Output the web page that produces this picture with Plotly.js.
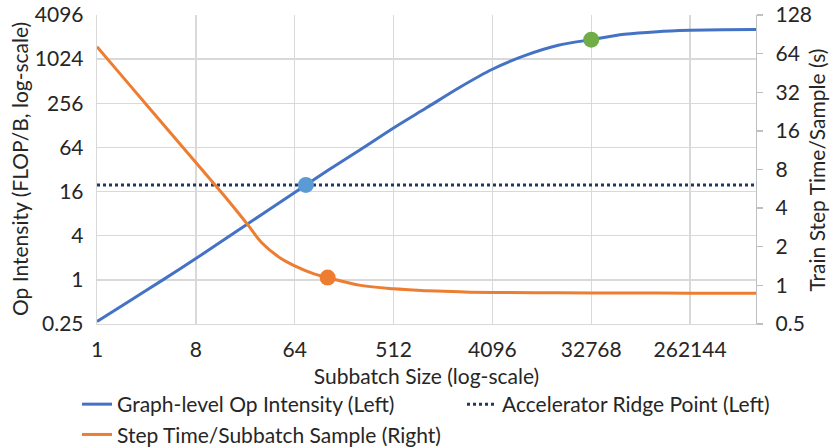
<!DOCTYPE html>
<html>
<head>
<meta charset="utf-8">
<script src="https://cdn.plot.ly/plotly-3.0.1.min.js"></script>
<style>
  html, body { margin: 0; padding: 0; background: #fff; }
  #chart { width: 830px; height: 447px; }
</style>
</head>
<body>
<div id="chart"></div>
<script>
// subbatch sizes (powers of 2)
var subbatch = [1, 2, 4, 8, 16, 32, 64, 128, 256, 512, 1024, 2048, 4096, 8192,
  16384, 32768, 65536, 131072, 262144, 524288, 1048576];

// graph-level op intensity, FLOP/B (left axis)
var opIntensity = [0.27, 0.52, 1.0, 1.95, 3.9, 7.8, 15.6, 31, 60, 118, 222, 420,
  745, 1150, 1580, 1890, 2230, 2430, 2530, 2580, 2600];

// step time per subbatch sample, s (right axis) - read at extra sizes round the knee
var stepX = [1, 2, 4, 8, 16, 24, 32, 48, 64, 96, 128, 256, 512, 1024, 2048,
  4096, 16384, 65536, 262144, 1048576];
var stepTime = [72.5, 36.2, 18.1, 9.06, 4.53, 2.95, 2.15, 1.62, 1.42, 1.23, 1.15,
  1.0, 0.94, 0.91, 0.89, 0.88, 0.875, 0.872, 0.87, 0.87];

// accelerator ridge point, FLOP/B
var ridgePoint = 19.7;
var ridgeX = [1, 1048576];

// highlighted points
var ridgeHit = {x: [81], y: [19.7]};
var stepHit = {x: [128], y: [1.15]};
var satHit = {x: [32768], y: [1890]};

var xTicks = [1, 8, 64, 512, 4096, 32768, 262144];
var leftTicks = [0.25, 1, 4, 16, 64, 256, 1024, 4096];
var rightTicks = [0.5, 1, 2, 4, 8, 16, 32, 64, 128];

var FONT = 'Lato, "Open Sans", sans-serif';
var FS = 21;
var TXT = '#262626';
var GRID = '#d9d9d9';

var lineOp = {
  x: subbatch, y: opIntensity, type: 'scatter', mode: 'lines',
  name: 'Graph-level Op Intensity (Left)',
  line: {color: '#4472c4', width: 3, shape: 'spline', smoothing: 0.8},
  legend: 'legend'
};

var lineRidge = {
  x: ridgeX, y: ridgeX.map(function(){ return ridgePoint; }),
  type: 'scatter', mode: 'lines',
  name: 'Accelerator Ridge Point (Left)',
  line: {color: '#1f3864', width: 3, dash: 'dot'},
  legend: 'legend2'
};

var lineStep = {
  x: stepX, y: stepTime, type: 'scatter', mode: 'lines', yaxis: 'y2',
  name: 'Step Time/Subbatch Sample (Right)',
  line: {color: '#ed7d31', width: 3, shape: 'spline', smoothing: 1},
  legend: 'legend'
};

var dotRidge = {
  x: ridgeHit.x, y: ridgeHit.y, type: 'scatter', mode: 'markers', showlegend: false,
  marker: {color: '#5b9bd5', size: 16}
};
var dotStep = {
  x: stepHit.x, y: stepHit.y, type: 'scatter', mode: 'markers', yaxis: 'y2', showlegend: false,
  marker: {color: '#ed7d31', size: 16}
};
var dotSat = {
  x: satHit.x, y: satHit.y, type: 'scatter', mode: 'markers', showlegend: false,
  marker: {color: '#70ad47', size: 16}
};

var layout = {
  width: 830, height: 447,
  margin: {l: 97, r: 74, t: 15, b: 123, autoexpand: false},
  paper_bgcolor: '#fff', plot_bgcolor: '#fff',
  font: {family: FONT, size: FS, color: TXT},
  showlegend: true,
  xaxis: {
    type: 'log',
    range: [0, Math.log10(1048576)],
    tickvals: xTicks, ticktext: xTicks.map(String), tickangle: 0,
    showgrid: true, gridcolor: GRID, gridwidth: 1.3,
    showline: true, linecolor: GRID, linewidth: 1.3,
    ticks: '', zeroline: false, ticklabelstandoff: 6,
    title: {text: 'Subbatch Size (log-scale)', font: {size: FS, color: TXT}, standoff: 9}
  },
  yaxis: {
    type: 'log',
    range: [Math.log10(0.25), Math.log10(4096)],
    tickvals: leftTicks, ticktext: leftTicks.map(String),
    showgrid: true, gridcolor: GRID, gridwidth: 1.3,
    showline: true, linecolor: GRID, linewidth: 1.3,
    ticks: '', zeroline: false, ticklabelstandoff: 8
  },
  yaxis2: {
    type: 'log', overlaying: 'y', side: 'right',
    range: [Math.log10(0.5), Math.log10(128)],
    tickvals: rightTicks, ticktext: rightTicks.map(String),
    showgrid: false,
    showline: true, linecolor: '#bfbfbf', linewidth: 1.3,
    ticks: 'outside', ticklen: 6, tickcolor: '#bfbfbf', tickwidth: 1.3,
    zeroline: false, ticklabelstandoff: 8
  },
  // y axis titles as rotated annotations (axis titles would not sit in the margins here)
  annotations: [
    {text: 'Op Intensity (FLOP/B, log-scale)', xref: 'paper', yref: 'paper',
     x: (19.5 - 97) / 659, y: 0.5, xanchor: 'center', yanchor: 'middle',
     textangle: -90, showarrow: false, font: {size: FS, color: TXT}},
    {text: 'Train Step Time/Sample (s)', xref: 'paper', yref: 'paper',
     x: (816 - 97) / 659, y: 0.5, xanchor: 'center', yanchor: 'middle',
     textangle: -90, showarrow: false, font: {size: FS, color: TXT}}
  ],
  legend: {
    xref: 'container', yref: 'container',
    x: 77 / 830, y: 1 - 384 / 447, xanchor: 'left', yanchor: 'top',
    orientation: 'v', tracegroupgap: 0,
    font: {size: FS, color: TXT}, bgcolor: 'rgba(0,0,0,0)'
  },
  legend2: {
    xref: 'container', yref: 'container',
    x: 462 / 830, y: 1 - 384 / 447, xanchor: 'left', yanchor: 'top',
    font: {size: FS, color: TXT}, bgcolor: 'rgba(0,0,0,0)'
  }
};

Plotly.newPlot('chart', [lineOp, lineRidge, lineStep, dotRidge, dotStep, dotSat], layout,
  {displayModeBar: false, staticPlot: true});
</script>
</body>
</html>
